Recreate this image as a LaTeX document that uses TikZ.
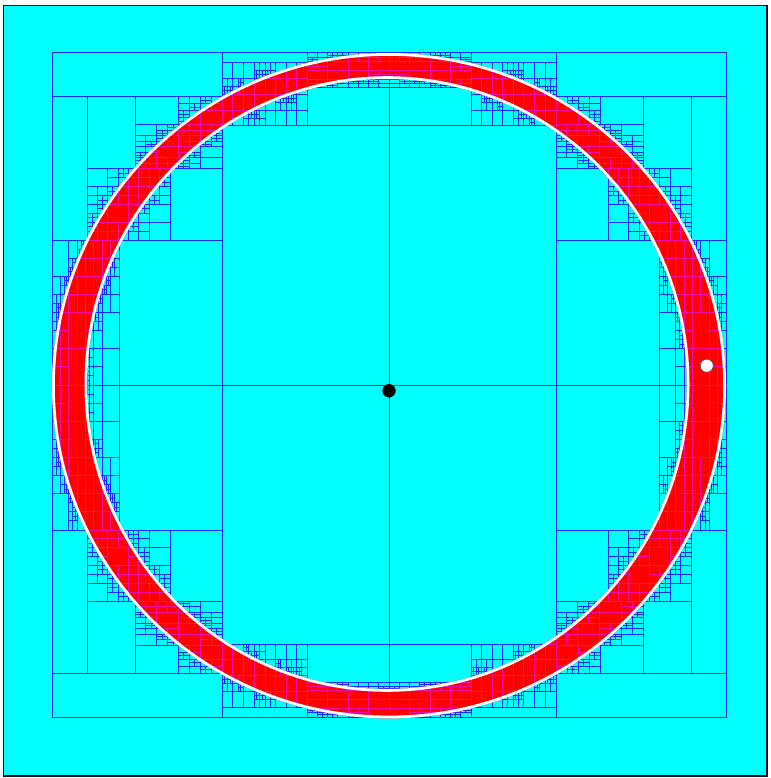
\documentclass[tikz,border=0pt]{standalone}
\usepackage{tikz}
\definecolor{meshblue}{RGB}{20,45,255}
\definecolor{meshpink}{RGB}{240,10,170}
\definecolor{ringred}{RGB}{255,0,0}
\definecolor{bgcyan}{RGB}{0,255,255}
\definecolor{bordercol}{RGB}{10,10,50}
\newcount\rka \newcount\rkb \newcount\rkc \newcount\rkd
\newcount\rkn \newcount\rkf \newcount\rksz
\newcount\rkgnO \newcount\rkgxO \newcount\rkgnI \newcount\rkgxI
\newcount\rkcO \newcount\rkcI \newcount\rkmx \newcount\rkmy
\newif\ifrksplit \newif\ifrkpass \newif\ifrkskip \newif\ifrkcross \newif\ifrkcyan
\def\rksq#1#2{%
  \ifnum#1>0 \advance\rkn by \numexpr#1*#1\relax
  \else\ifnum#2<0 \advance\rkn by \numexpr#2*#2\relax\fi\fi
  \ifnum\numexpr#1*#1\relax>\numexpr#2*#2\relax
    \advance\rkf by \numexpr#1*#1\relax
  \else \advance\rkf by \numexpr#2*#2\relax\fi}
\def\rkell#1#2#3#4#5#6#7#8{%
  \rka=\numexpr(#1-#5)*1000/#7\relax
  \rkb=\numexpr(#3-#5)*1000/#7\relax
  \rkc=\numexpr(#2-#6)*1000/#8\relax
  \rkd=\numexpr(#4-#6)*1000/#8\relax
  \rkn=0 \rkf=0
  \rksq\rka\rkb \rksq\rkc\rkd}
\def\rkrect#1#2#3#4{%
  \pgfpathrectanglecorners
    {\pgfqpoint{\dimexpr#1sp*1024\relax}{\dimexpr-#2sp*1024\relax}}%
    {\pgfqpoint{\dimexpr#3sp*1024\relax}{\dimexpr-#4sp*1024\relax}}%
  \pgfusepath{stroke}}
\def\cellF#1#2#3#4{\rkrect{#1}{#2}{#3}{#4}}
\def\cellR#1#2#3#4{%
 \begingroup
  \rksz=\numexpr#3-#1\relax
  \ifnum\numexpr#4-#2\relax>\rksz \rksz=\numexpr#4-#2\relax\fi
  \rkmx=\numexpr(#1+#3)/2\relax \rkmy=\numexpr(#2+#4)/2\relax
  \rkell{#1}{#2}{#3}{#4}{24896}{24685}{21568}{21293}%
  \rkgnO=\rkn \rkgxO=\rkf
  \rkell{#1}{#2}{#3}{#4}{24768}{24576}{19181}{19520}%
  \rkgnI=\rkn \rkgxI=\rkf
  \rkell{\rkmx}{\rkmy}{\rkmx}{\rkmy}{24896}{24685}{21568}{21293}%
  \rkcO=\rkn
  \rkell{\rkmx}{\rkmy}{\rkmx}{\rkmy}{24768}{24576}{19181}{19520}%
  \rkcI=\rkn
  \rkskipfalse
  \ifrkpass
    \ifnum\rkgnO>1000000 \rkskiptrue\fi
    \ifnum\rkgxI<1000000 \rkskiptrue\fi
  \fi
  \rkcrossfalse
  \ifnum\rkgnO<1000000 \ifnum\rkgxO>1000000 \rkcrosstrue\fi\fi
  \ifnum\rkgnI<1000000 \ifnum\rkgxI>1000000 \rkcrosstrue\fi\fi
  \rkcyanfalse
  \ifnum\rkcO>1000000 \rkcyantrue\fi
  \ifnum\rkcI<1000000 \rkcyantrue\fi
  \rksplitfalse
  \ifrkcross
    \ifnum\rksz>1280 \rksplittrue\fi
    \ifrkcyan \ifnum\rksz>480 \rksplittrue\fi\fi
  \fi
  \ifnum\rksz>2400
    \ifnum\rkgnO<1000000 \ifnum\rkgxI>1000000 \rksplittrue\fi\fi
  \fi
  \ifrkskip
    \let\rkact\relax
  \else
    \ifrksplit
      \edef\rkact{%
        \noexpand\cellR{#1}{#2}{\the\rkmx}{\the\rkmy}%
        \noexpand\cellR{\the\rkmx}{#2}{#3}{\the\rkmy}%
        \noexpand\cellR{#1}{\the\rkmy}{\the\rkmx}{#4}%
        \noexpand\cellR{\the\rkmx}{\the\rkmy}{#3}{#4}}%
    \else
      \def\rkact{\rkrect{#1}{#2}{#3}{#4}}%
    \fi
  \fi
  \rkact
 \endgroup}
\def\rkdo#1#2#3#4#5{%
  \edef\rktmp{\expandafter\noexpand\csname cell#1\endcsname
    {\the\numexpr(#2)*64\relax}{\the\numexpr(#3)*64\relax}%
    {\the\numexpr(#4)*64\relax}{\the\numexpr(#5)*64\relax}}%
  \rktmp}
\def\qcell#1#2#3#4#5{%
  \rkdo{#5}{#1}{#2}{#3}{#4}%
  \rkdo{#5}{778-#3}{#2}{778-#1}{#4}%
  \rkdo{#5}{#1}{770-#4}{#3}{770-#2}%
  \rkdo{#5}{778-#3}{770-#4}{778-#1}{770-#2}}
\def\allcells{%
  \qcell{52}{53}{222}{97}{F}%
  \qcell{52}{97}{87}{240}{F}%
  \qcell{87}{97}{135}{169}{F}%
  \qcell{135}{97}{178}{125}{F}%
  \qcell{178}{97}{222}{125}{R}%
  \qcell{135}{125}{222}{169}{R}%
  \qcell{87}{169}{170}{240}{R}%
  \qcell{170}{169}{222}{240}{F}%
  \qcell{52}{240}{119}{385}{R}%
  \qcell{119}{240}{222}{385}{F}%
  \qcell{222}{53}{307}{63}{F}%
  \qcell{222}{63}{265}{126}{R}%
  \qcell{265}{63}{307}{126}{R}%
  \qcell{307}{53}{389}{88}{R}%
  \qcell{307}{88}{389}{126}{F}%
  \qcell{222}{126}{389}{385}{F}%
}
\begin{document}
\begin{tikzpicture}[x=1pt,y=-1pt]
  \useasboundingbox (0,0) rectangle (770,778);
  \fill[white] (0,0) rectangle (770,778);
  \fill[bgcyan] (3.5,5.5) rectangle (767,776);
  % ring
  \fill[ringred, even odd rule]
    (389,385.7) ellipse [x radius=337pt, y radius=332.7pt]
    (387,384) ellipse [x radius=299.7pt, y radius=305pt];
  % mesh, blue everywhere
  \begin{scope}
    \pgfsetstrokecolor{meshblue}\pgfsetlinewidth{1pt}%
    \rkpassfalse
    \allcells
  \end{scope}
  % mesh, pink inside the ring
  \begin{scope}[even odd rule]
    \clip
      (389,385.7) ellipse [x radius=337pt, y radius=332.7pt]
      (387,384) ellipse [x radius=299.7pt, y radius=305pt];
    \pgfsetstrokecolor{meshpink}\pgfsetlinewidth{1pt}%
    \rkpasstrue
    \allcells
  \end{scope}
  % white edges of the ring
  \draw[white, line width=2.8pt]
    (389,385.7) ellipse [x radius=335.6pt, y radius=331.3pt];
  \draw[white, line width=2.8pt]
    (387,384) ellipse [x radius=301.1pt, y radius=306.4pt];
  % dots
  \node[circle, fill=black, inner sep=0pt, minimum size=13.4pt] (centre) at (389,390.7) {};
  \node[circle, fill=white, draw=black!70, line width=0.5pt, inner sep=0pt, minimum size=13pt] (probe) at (706.7,365.7) {};
  % border
  \draw[bordercol, line width=1.3pt] (3.5,5.5) rectangle (767,776);
\end{tikzpicture}
\end{document}
